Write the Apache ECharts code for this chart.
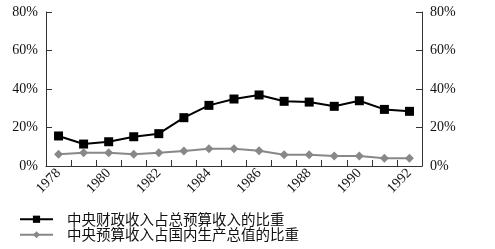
<!DOCTYPE html>
<html><head><meta charset="utf-8">
<script src="https://cdn.jsdelivr.net/npm/echarts@6/dist/echarts.min.js"></script>
<style>html,body{margin:0;padding:0;background:#fff}#c{width:495px;height:249px}</style>
</head><body><div id="c"></div>
<script>
var years = ['1978','1979','1980','1981','1982','1983','1984','1985','1986','1987','1988','1989','1990','1991','1992'];
var centralFiscalShare = [15.6,11.4,12.6,15.2,16.8,25.1,31.5,34.8,36.9,33.6,33.2,31.0,33.9,29.4,28.4];
var centralBudgetGdpShare = [6.1,6.9,6.9,6.1,6.9,7.8,9.0,9.0,7.9,5.9,5.9,5.2,5.2,4.0,4.0];
var seriesNames = ['中央财政收入占总预算收入的比重','中央预算收入占国内生产总值的比重'];

var serif = '"Liberation Serif","DejaVu Serif",serif';
var axisLine = {show:true,lineStyle:{color:'#333',width:1}};
function yAx(pos){
  return {type:'value',min:0,max:80,interval:20,position:pos,
    axisLine:axisLine,axisTick:{show:true,inside:true,length:6,lineStyle:{color:'#333'}},
    splitLine:{show:false},
    axisLabel:{formatter:'{value}%',fontFamily:serif,fontSize:14,color:'#111',margin:8}};
}
var chart = echarts.init(document.getElementById('c'));
chart.setOption({
  animation:false,
  grid:{left:46,right:73,top:12,bottom:83},
  legend:{orient:'vertical',left:14,top:207,itemWidth:33,itemHeight:9,itemGap:1,padding:[5,5,5,5],
    textStyle:{fontFamily:'"Noto Sans CJK SC",sans-serif',fontSize:14.5,lineHeight:14,color:'#111',padding:[0,0,0,9]},
    data:seriesNames},
  xAxis:{type:'category',data:years,boundaryGap:true,axisLine:axisLine,
    axisTick:{show:true,inside:true,length:6,interval:0,lineStyle:{color:'#333'}},
    axisLabel:{interval:1,rotate:45,fontFamily:serif,fontSize:14,color:'#111',margin:5}},
  yAxis:[yAx('left'),yAx('right')],
  series:[
    {name:seriesNames[0],type:'line',data:centralFiscalShare,symbol:'rect',symbolSize:9,
      lineStyle:{color:'#000',width:2},itemStyle:{color:'#000'}},
    {name:seriesNames[1],type:'line',data:centralBudgetGdpShare,symbol:'diamond',symbolSize:9,
      lineStyle:{color:'#888',width:2},itemStyle:{color:'#888'}}
  ]
});
</script></body></html>
